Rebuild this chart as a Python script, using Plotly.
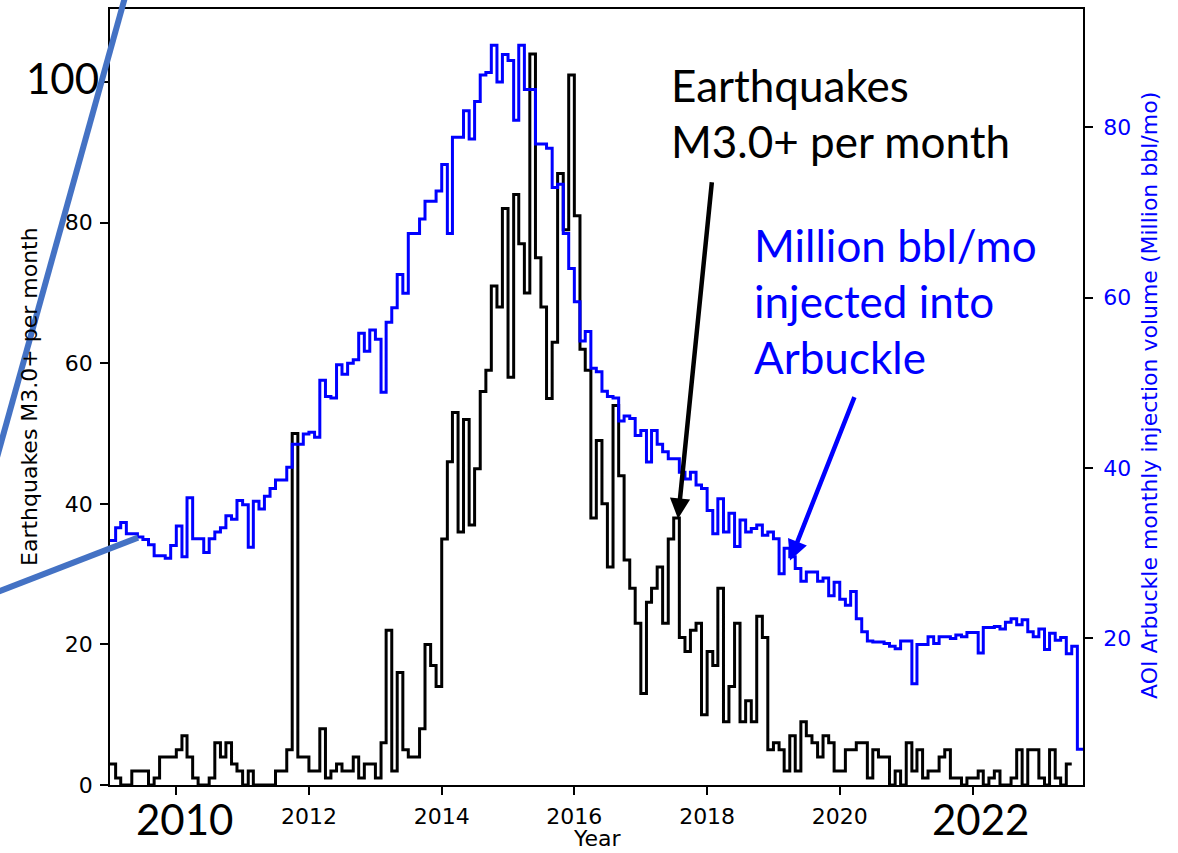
import plotly.graph_objects as go
import pandas as pd

# ---------------- data (monthly, starting Jan 2009) ----------------
start_month = "2009-01-01"

quakes = [
    3, 1, 0, 0, 2, 2, 2, 0, 1, 4, 4, 4,          # 2009
    5, 7, 4, 1, 0, 0, 1, 6, 4, 6, 3, 2,          # 2010
    0, 2, 0, 0, 0, 0, 2, 2, 5, 50, 4, 4,         # 2011
    2, 2, 8, 1, 2, 3, 2, 2, 4, 1, 3, 3,          # 2012
    1, 6, 22, 2, 16, 5, 4, 4, 8, 20, 17, 14,     # 2013
    35, 46, 53, 36, 52, 37, 45, 56, 59, 71, 68, 82,   # 2014
    58, 84, 77, 70, 104, 75, 68, 55, 63, 87, 79, 101, # 2015
    81, 62, 59, 38, 49, 40, 31, 54, 44, 32, 28, 23,   # 2016
    13, 26, 28, 31, 23, 35, 38, 21, 19, 22, 23, 10,   # 2017
    19, 17, 28, 9, 14, 23, 9, 12, 9, 24, 21, 5,       # 2018
    6, 5, 2, 7, 2, 9, 7, 6, 4, 7, 6, 2,          # 2019
    2, 5, 5, 6, 6, 1, 5, 4, 4, 0, 2, 0,          # 2020
    6, 2, 5, 1, 2, 2, 4, 5, 1, 1, 0, 1,          # 2021
    1, 2, 0, 1, 2, 0, 0, 1, 5, 0, 5, 5,          # 2022
    1, 0, 5, 1, 0, 3,                            # 2023
]

injection = [
    31.5, 33.0, 33.6, 32.3, 32.3, 31.9, 31.6, 31.0, 29.7, 29.7, 29.4, 30.9,  # 2009
    33.2, 29.6, 36.5, 31.7, 31.7, 30.1, 31.7, 32.5, 33.0, 34.4, 34.0, 36.2,  # 2010
    35.7, 30.7, 36.1, 35.2, 36.7, 37.6, 38.6, 38.6, 40.1, 42.8, 42.8, 44.0,  # 2011
    44.2, 43.6, 50.3, 48.4, 48.2, 52.1, 51.0, 52.3, 52.7, 55.8, 53.7, 56.2,  # 2012
    55.1, 48.9, 57.1, 58.8, 62.7, 60.5, 67.5, 67.5, 69.2, 71.3, 71.3, 72.5,  # 2013
    75.6, 67.5, 78.8, 78.8, 81.9, 78.6, 83.0, 86.1, 86.4, 89.6, 85.3, 88.5,  # 2014
    87.8, 80.8, 89.6, 84.4, 84.4, 78.0, 78.0, 77.5, 72.9, 73.3, 67.5, 63.4,  # 2015
    59.5, 54.9, 56.0, 51.7, 51.3, 49.0, 48.4, 48.2, 45.5, 46.1, 45.8, 43.8,  # 2016
    44.4, 40.7, 44.4, 42.8, 41.9, 41.1, 41.1, 39.5, 38.7, 39.5, 38.0, 37.6,  # 2017
    35.0, 32.3, 36.4, 32.5, 34.7, 30.8, 33.9, 32.5, 32.9, 33.3, 32.1, 32.5,  # 2018
    31.7, 27.6, 30.6, 29.6, 28.2, 26.7, 27.8, 27.8, 26.7, 27.1, 25.0, 26.6,  # 2019
    24.6, 23.9, 25.5, 22.3, 20.8, 19.7, 19.6, 19.6, 19.4, 19.1, 18.8, 19.7,  # 2020
    19.7, 14.7, 19.3, 19.3, 20.2, 19.4, 20.2, 20.2, 20.0, 20.4, 20.2, 20.7,  # 2021
    20.7, 18.3, 21.3, 21.3, 21.4, 21.1, 21.9, 22.3, 21.6, 22.2, 20.8, 20.2,  # 2022
    21.1, 18.7, 20.6, 19.8, 20.1, 18.2, 19.1, 7.0,                           # 2023
]

x_tick_years = [2010, 2012, 2014, 2016, 2018, 2020, 2022]
x_tick_text = ["", "2012", "2014", "2016", "2018", "2020", ""]
left_ticks = [0, 20, 40, 60, 80, 100]
left_tick_text = ["0", "20", "40", "60", "80", ""]
right_ticks = [20, 40, 60, 80]

# step series: add closing point so the final month is drawn
q_x = pd.date_range(start_month, periods=len(quakes) + 1, freq="MS")
q_y = quakes + [quakes[-1]]
i_x = pd.date_range(start_month, periods=len(injection) + 1, freq="MS")
i_y = injection + [injection[-1]]

W, H = 1178, 853
L, R, T, B = 110, 95, 7, 68
PW, PH = W - L - R, H - T - B


def px(x):
    return (x - L) / PW


def py(y):
    return (H - B - y) / PH


TICKFONT = dict(family="DejaVu Sans", size=22, color="black")
BIG = "Lato"
BLUE = "#0000FF"
STEEL = "#4472C4"

fig = go.Figure()
fig.add_trace(go.Scatter(x=q_x, y=q_y, mode="lines", line=dict(color="black", width=3, shape="hv"),
                         yaxis="y", showlegend=False, hoverinfo="skip"))
fig.add_trace(go.Scatter(x=i_x, y=i_y, mode="lines", line=dict(color=BLUE, width=3, shape="hv"),
                         yaxis="y2", showlegend=False, hoverinfo="skip"))

fig.update_layout(
    width=W, height=H,
    margin=dict(l=L, r=R, t=T, b=B),
    paper_bgcolor="white", plot_bgcolor="white",
    xaxis=dict(
        type="date",
        range=[q_x[0], i_x[-1]],
        tickvals=[f"{yr}-01-01" for yr in x_tick_years], ticktext=x_tick_text,
        ticks="outside", ticklen=8, tickwidth=1.7, tickcolor="black",
        showline=True, linecolor="black", linewidth=1.7, mirror=True,
        showgrid=False, zeroline=False, tickfont=TICKFONT, ticklabelstandoff=3,
    ),
    yaxis=dict(
        range=[0, 110.4],
        tickvals=left_ticks, ticktext=left_tick_text,
        ticks="outside", ticklen=8, tickwidth=1.7, tickcolor="black",
        showline=True, linecolor="black", linewidth=1.7,
        showgrid=False, zeroline=False, tickfont=TICKFONT, ticklabelstandoff=3,
    ),
    yaxis2=dict(
        range=[2.81, 93.85], overlaying="y", side="right",
        tickvals=right_ticks,
        ticks="outside", ticklen=8, tickwidth=1.7, tickcolor="black",
        showline=True, linecolor="black", linewidth=1.7,
        showgrid=False, zeroline=False,
        tickfont=dict(family="DejaVu Sans", size=22, color=BLUE), ticklabelstandoff=6,
    ),
)

ann = []
# axis titles
ann.append(dict(text="Earthquakes M3.0+ per month", x=px(29), y=py(396), xref="paper", yref="paper",
                textangle=-90, showarrow=False, font=TICKFONT, xanchor="center", yanchor="middle"))
ann.append(dict(text="AOI Arbuckle monthly injection volume (Million bbl/mo)", x=px(1149), y=py(395),
                xref="paper", yref="paper", textangle=-90, showarrow=False,
                font=dict(family="DejaVu Sans", size=22, color=BLUE), xanchor="center", yanchor="middle"))
ann.append(dict(text="Year", x=px(597), y=py(839), xref="paper", yref="paper", showarrow=False,
                font=TICKFONT, xanchor="center", yanchor="middle"))

# big overlay labels
for txt, x0, yc in [("100", 24, 76), ("2010", 134, 819), ("2022", 930, 819)]:
    ann.append(dict(text=txt, x=px(x0), y=py(yc), xref="paper", yref="paper", showarrow=False,
                    font=dict(family=BIG, size=42, color="black"), xanchor="left", yanchor="middle"))

for txt, yc in [("Earthquakes", 83), ("M3.0+ per month", 139)]:
    ann.append(dict(text=txt, x=px(669), y=py(yc), xref="paper", yref="paper", showarrow=False,
                    font=dict(family=BIG, size=44, color="black"), xanchor="left", yanchor="middle"))
for txt, yc in [("Million bbl/mo", 244), ("injected into", 300), ("Arbuckle", 356)]:
    ann.append(dict(text=txt, x=px(752), y=py(yc), xref="paper", yref="paper", showarrow=False,
                    font=dict(family=BIG, size=44, color=BLUE), xanchor="left", yanchor="middle"))

# arrows
ann.append(dict(x=px(678), y=py(518), xref="paper", yref="paper", ax=712 - 678, ay=180 - 518,
                axref="pixel", ayref="pixel", text="", showarrow=True, arrowhead=2, arrowsize=0.9,
                arrowwidth=4.5, arrowcolor="black"))
ann.append(dict(x=px(790), y=py(560), xref="paper", yref="paper", ax=855 - 790, ay=395 - 560,
                axref="pixel", ayref="pixel", text="", showarrow=True, arrowhead=2, arrowsize=0.9,
                arrowwidth=4.5, arrowcolor=BLUE))
fig.update_layout(annotations=ann)

shapes = [
    dict(type="line", xref="paper", yref="paper", x0=px(127), y0=py(-12), x1=px(-4), y1=py(460),
         line=dict(color=STEEL, width=6), layer="above"),
    dict(type="line", xref="paper", yref="paper", x0=px(138), y0=py(537), x1=px(-4), y1=py(592),
         line=dict(color=STEEL, width=6), layer="above"),
]
fig.update_layout(shapes=shapes)

fig.write_html("out.html", config={"displayModeBar": False},
               post_script="document.body.style.margin='0px';document.body.style.overflow='hidden';")
